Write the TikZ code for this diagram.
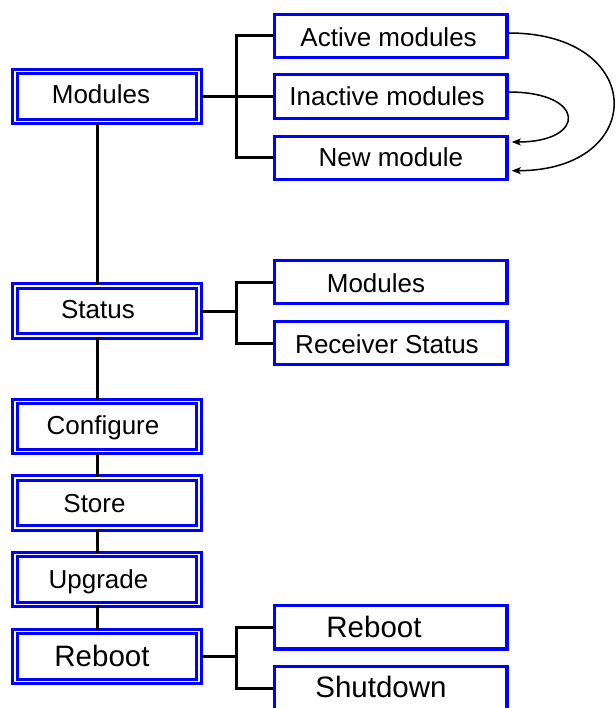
\documentclass[tikz,border=0pt]{standalone}
\usepackage{fontspec}
\setmainfont{Liberation Sans}
\usetikzlibrary{arrows.meta}
\definecolor{boxblue}{RGB}{0,0,255}
\tikzset{
  lbox/.style={draw=boxblue, double=white, line width=3pt, double distance=1.8pt,
    minimum width=184pt, minimum height=50pt, inner sep=0pt, rectangle},
  rbox/.style={draw=boxblue, line width=3.4pt, fill=white,
    minimum width=232.5pt, minimum height=43.5pt, inner sep=0pt, rectangle},
  txt/.style={font=\fontsize{26}{30}\selectfont, text height=18.6pt, text depth=0pt, inner sep=0pt},
  bigtxt/.style={font=\fontsize{29.5}{34}\selectfont, text height=21.1pt, text depth=0pt, inner sep=0pt},
  conn/.style={line width=3pt, black},
  curv/.style={line width=1.5pt, black, -{Stealth[length=9pt,width=7pt,inset=2pt]}}
}
\begin{document}
\begin{tikzpicture}[x=1pt,y=-1pt]
\useasboundingbox (0,0) rectangle (615,708);
\clip (0,0) rectangle (615,708);
% left boxes
\node[lbox] (L1) at (107,96.5) {};
\node[lbox] (L2) at (107,311) {};
\node[lbox] (L3) at (107,426.5) {};
\node[lbox] (L4) at (107,503) {};
\node[lbox] (L5) at (107,579.5) {};
\node[lbox] (L6) at (107,656.5) {};
% right boxes
\node[rbox] (R1) at (390.75,36) {};
\node[rbox] (R2) at (390.75,96.5) {};
\node[rbox] (R3) at (390.75,158) {};
\node[rbox] (R4) at (390.75,282) {};
\node[rbox] (R5) at (390.75,343) {};
\node[rbox] (R6) at (390.75,627.3) {};
\node[rbox] (R7) at (390.75,688.5) {};
% texts
\node[txt] (t1) at (101,94.5) {Modules};
\node[txt] (t2) at (98,309) {Status};
\node[txt] (t3) at (103,425.5) {Configure};
\node[txt] (t4) at (94.5,503.5) {Store};
\node[txt] (t5) at (98.5,579) {Upgrade};
\node[bigtxt] (t6) at (102,655.5) {Reboot};
\node[txt] (t7) at (388.6,37) {Active modules};
\node[txt] (t8) at (387,96) {Inactive modules};
\node[txt] (t9) at (390.8,157.5) {New module};
\node[txt] (t10) at (376,283) {Modules};
\node[txt] (t11) at (387,344) {Receiver Status};
\node[bigtxt] (t12) at (374,626.5) {Reboot};
\node[bigtxt] (t13) at (381,687) {Shutdown};
% trunk
\draw[conn] ([xshift=-10pt]L1.south) -- ([xshift=-10pt]L2.north);
\draw[conn] ([xshift=-10pt]L2.south) -- ([xshift=-10pt]L3.north);
\draw[conn] ([xshift=-10pt]L3.south) -- ([xshift=-10pt]L4.north);
\draw[conn] ([xshift=-10pt]L4.south) -- ([xshift=-10pt]L5.north);
\draw[conn] ([xshift=-10pt]L5.south) -- ([xshift=-10pt]L6.north);
% brackets
\coordinate (b1) at (236.5,96.5);
\coordinate (b2) at (236.5,311);
\coordinate (b3) at (236.5,656.5);
\draw[conn] (L1.east) -- (R2.west);
\draw[conn] (R1.west) -| (b1) |- (R3.west);
\draw[conn] (L2.east) -- (b2);
\draw[conn] (R4.west) -| (b2) |- (R5.west);
\draw[conn] (L6.east) -- (b3);
\draw[conn] (R6.west) -| (b3) |- (R7.west);
% curved arrows
\draw[curv] ([yshift=3pt]R1.east) .. controls +(139,0) and +(136,0) .. ([xshift=3pt,yshift=-12.7pt]R3.east);
\draw[curv] ([yshift=4.5pt]R2.east) .. controls +(78,0) and +(75,0) .. ([xshift=3pt,yshift=16pt]R3.east);
\end{tikzpicture}
\end{document}
